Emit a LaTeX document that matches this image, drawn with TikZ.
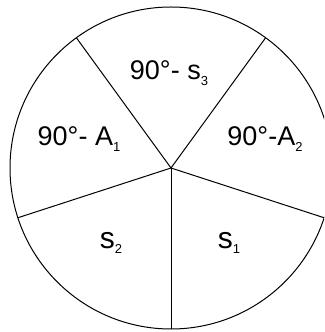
\documentclass[tikz,border=0pt]{standalone}
\usepackage{fontspec}
\setmainfont{Liberation Sans}
\newcommand{\lowsub}[1]{\raisebox{-5.5pt}{\fontsize{13}{13}\selectfont #1}}
\begin{document}
\begin{tikzpicture}[x=1pt,y=1pt,
  rim/.style={draw=black,line width=1pt},
  spoke/.style={draw=black,line width=1pt},
  part/.style={font=\fontsize{27}{32}\selectfont,inner sep=0pt},
  side/.style={font=\fontsize{30}{36}\selectfont,inner sep=0pt}]
  \useasboundingbox (0,0) rectangle (324,332);
  \clip (0,0) rectangle (324,332);
  \coordinate (o) at (171,164);
  \draw[rim] (o) circle[radius=161];
  \foreach \ang/\name in {54/ne,126/nw,198/sw,270/bot,342/se}{
    \path (o) ++(\ang:161) coordinate (\name);
    \draw[spoke] (o) -- (\name);
  }
  \node[part] (cs3) at (169,259) {90°- s\lowsub{3}};
  \node[part] (ca1) at (79,193)  {90°- A\lowsub{1}};
  \node[part] (ca2) at (265,193) {90°-A\lowsub{2}};
  \node[side] (cs2) at (111,89)  {s\lowsub{2}};
  \node[side] (cs1) at (229,89)  {s\lowsub{1}};
\end{tikzpicture}
\end{document}
